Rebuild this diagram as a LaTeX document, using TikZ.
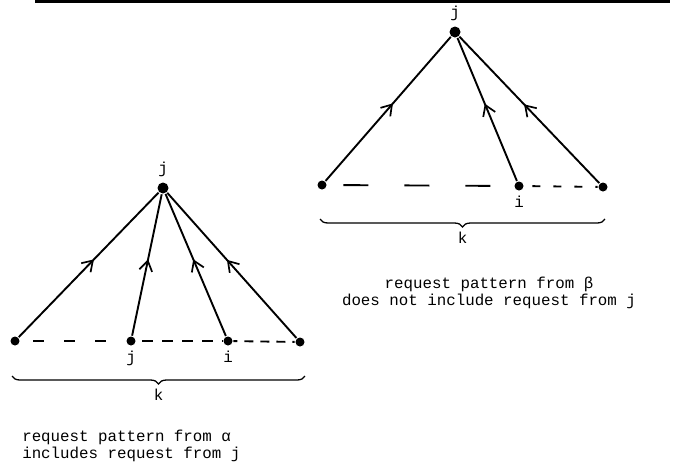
\documentclass[tikz,border=0pt]{standalone}
\usepackage{fontspec}
\setmonofont{Liberation Mono}
\usetikzlibrary{arrows.meta,positioning,decorations.markings,decorations.pathreplacing}

\begin{document}
\begin{tikzpicture}[x=1pt, y=-1pt, line width=1.9pt,
    every node/.style={font=\ttfamily\fontsize{15.8}{17}\selectfont},
    dot/.style={circle, fill, inner sep=0pt, minimum size=9pt},
    req/.style={postaction={decorate}, decoration={markings,
        mark=at position 0.53 with {\draw[solid, line width=1.7pt] (-10pt,6.5pt) -- (0,0) -- (-10pt,-6.5pt);}}},
    kbrace/.style={decorate, decoration={brace, mirror, amplitude=8pt}, line width=1.3pt}]
  \useasboundingbox (0,0) rectangle (675,467);
  \draw[line width=2.5pt] (35,1.5) -- (670,1.5);

  % alpha: pattern includes j
  \node[dot, minimum size=11pt] (aj) at (163,188) {};
  \node[above=0pt of aj] (ajl) {j};
  \node[dot] (al) at (15,341) {};
  \node[dot] (am) at (131,341) {};
  \node[dot] (ai) at (228,341) {};
  \node[dot] (ar) at (300,342) {};
  \node[below=0pt of am] (aml) {j};
  \node[below=0pt of ai] (ail) {i};
  \draw[req] (al) -- (aj);
  \draw[req] (am) -- (aj);
  \draw[req] (ai) -- (aj);
  \draw[req] (ar) -- (aj);
  \draw[dash pattern=on 11pt off 20pt, dash phase=18pt] (al) -- (am);
  \draw[dash pattern=on 11pt off 9pt, dash phase=14pt] (am) -- (ai);
  \draw[dash pattern=on 9pt off 7pt, dash phase=5pt] (ai) -- (ar);
  \coordinate (abl) at (12,376);
  \coordinate (abr) at (305,376);
  \draw[kbrace] (abl) -- (abr) node[midway, below=9pt] (ak) {k};
  \node[align=left, anchor=north west] (acap) at (18,426)
    {request pattern from α\\includes request from j};

  % beta: pattern without j
  \node[dot, minimum size=11pt] (bj) at (455,32) {};
  \node[above=0pt of bj] (bjl) {j};
  \node[dot] (bl) at (322,185) {};
  \node[dot] (bi) at (519,186) {};
  \node[dot] (br) at (603,187) {};
  \node[below=0pt of bi] (bil) {i};
  \draw[req] (bl) -- (bj);
  \draw[req] (bi) -- (bj);
  \draw[req] (br) -- (bj);
  \draw[dash pattern=on 25pt off 36pt, dash phase=45pt] (bl) -- (bi);
  \draw[dash pattern=on 8pt off 13pt, dash phase=-8pt] (bi) -- (br);
  \coordinate (bbl) at (320,219);
  \coordinate (bbr) at (605,219);
  \draw[kbrace] (bbl) -- (bbr) node[midway, below=9pt] (bk) {k};
  \node[align=center] (bcap) at (489,293)
    {request pattern from β\\does not include request from j};
\end{tikzpicture}
\end{document}
